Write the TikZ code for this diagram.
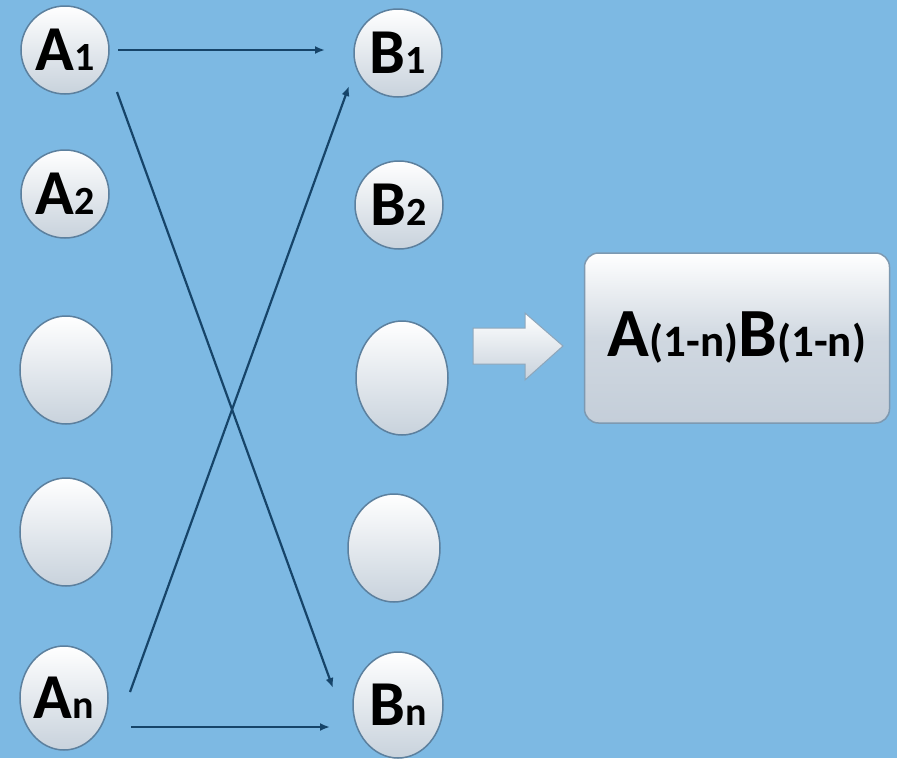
\documentclass[tikz,border=0pt]{standalone}
\usepackage{fontspec}
\setmainfont{Carlito}
\usepackage{tikz}
\usetikzlibrary{positioning,arrows.meta,shapes.geometric,calc}

\definecolor{bgblue}{RGB}{125,185,227}
\definecolor{ballgrey}{RGB}{200,210,220}
\definecolor{rimblue}{RGB}{92,128,158}
\definecolor{linkblue}{RGB}{22,68,105}
\definecolor{boxgrey}{RGB}{196,206,217}

\newcommand{\idx}[1]{{\fontsize{40}{40}\selectfont #1}}
\newcommand{\bigidx}[1]{{\fontsize{45}{45}\selectfont #1}}

\begin{document}
\begin{tikzpicture}[
    x=1pt, y=-1pt,
    ball/.style={draw=rimblue, line width=1.5pt, ellipse, inner sep=0pt, top color=white, bottom color=ballgrey, minimum width=88, minimum height=88, font=\fontsize{64}{64}\selectfont\bfseries},
    tall/.style={ball, minimum width=92, minimum height=108},
    arrow/.style={-{Latex[length=10pt, width=8pt]}, line width=2.2pt, draw=linkblue}
]

% --- Fondo ---
\fill[bgblue] (0,0) rectangle (897,758);
\useasboundingbox (0,0) rectangle (897,758);

% --- Columna A ---
\node[ball] (a1) at (65,50) {A\idx{1}};
\node[ball] (a2) at (65,194) {A\idx{2}};
\node[tall] (a3) at (66,370) {};
\node[tall] (a4) at (66,532) {};
\node[ball, minimum height=104] (an) at (64,698) {A\idx{n}};

% --- Columna B ---
\node[ball] (b1) at (398,53) {B\idx{1}};
\node[ball] (b2) at (399,205) {B\idx{2}};
\node[tall, minimum height=114] (b3) at (402,378) {};
\node[tall] (b4) at (394,548) {};
\node[ball, minimum width=90, minimum height=106] (bn) at (398,705) {B\idx{n}};

% --- Flecha y resultado ---
\coordinate (go) at (473,346);
\draw[draw=rimblue!70, line width=1pt, top color=white, bottom color=ballgrey]
    (go) ++(0,-18) -- ++(52,0) -- ++(0,-15) -- ++(38,33) -- ++(-38,34) -- ++(0,-16) -- ++(-52,0) -- cycle;
\node[draw=rimblue!80, line width=1.5pt, rounded corners=14pt, top color=white, bottom color=boxgrey, middle color=boxgrey!80, minimum width=305, minimum height=170, font=\fontsize{69}{69}\selectfont\bfseries] (res) at (737,338) {A\bigidx{(1-n)}B\bigidx{(1-n)}};

% --- Conexiones ---
\draw[arrow] ($(a1)+(53,0)$) -- ($(a1 -| b1)+(-73,0)$);
\draw[arrow] ($(a1)+(52,42)$) -- ($(bn)+(-65,-17)$);
\draw[arrow] ($(an)+(66,-6)$) -- ($(b1)+(-49,33)$);
\draw[arrow] ($(an)+(67,29)$) -- ($(an -| bn)+(-68,29)$);

\end{tikzpicture}
\end{document}
